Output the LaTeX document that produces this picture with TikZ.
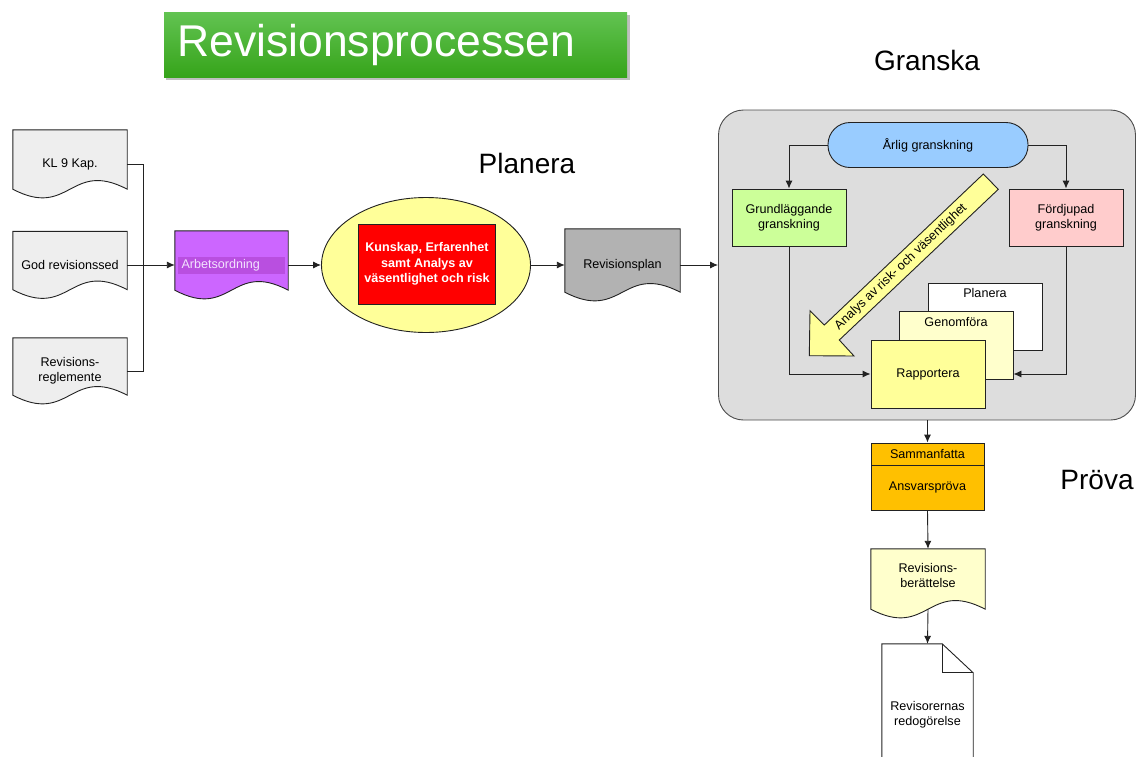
\documentclass[tikz,border=0pt]{standalone}
\usepackage{fontspec}
\setmainfont{Liberation Sans}
\usetikzlibrary{arrows.meta,shapes.geometric,calc}
\pgfdeclarelayer{bg}
\pgfsetlayers{bg,main}
\definecolor{docgray}{HTML}{EEEEEE}
\definecolor{violet}{HTML}{CC66FF}
\definecolor{violetdark}{HTML}{B94FE0}
\definecolor{violettext}{HTML}{F3E3FF}
\definecolor{ellyellow}{HTML}{FFFF99}
\definecolor{redbox}{HTML}{FF0000}
\definecolor{plangray}{HTML}{B2B2B2}
\definecolor{boxgray}{HTML}{DDDDDD}
\definecolor{blueish}{HTML}{99CCFF}
\definecolor{greenish}{HTML}{CCFF99}
\definecolor{pinkish}{HTML}{FFCCCC}
\definecolor{paleyellow}{HTML}{FFFFCC}
\definecolor{orangebox}{HTML}{FFC000}
\definecolor{titletop}{HTML}{62C352}
\definecolor{titlebot}{HTML}{36A41A}
\definecolor{stroke}{HTML}{222222}
\newcommand\docshape[2]{%
  \begin{pgfonlayer}{bg}
  \draw[shapeline,fill=#2] (#1.north west) -- (#1.north east) -- ([yshift=9pt]#1.south east)
    .. controls ([yshift=39pt]#1.south) and ([yshift=-21pt]#1.south) .. ([yshift=9pt]#1.south west) -- cycle;
  \end{pgfonlayer}}
\tikzset{
  shapeline/.style={draw=stroke,line width=0.9pt},
  conn/.style={draw=stroke,line width=0.9pt},
  arrowconn/.style={conn,-{Latex[length=8pt,width=7pt]}},
  txt/.style={font=\fontsize{12.6}{15}\selectfont,align=center,inner sep=0pt},
  docnode/.style={txt,rectangle,draw=none},
  boxnode/.style={txt,rectangle,shapeline},
  bigtxt/.style={font=\fontsize{28}{32}\selectfont,inner sep=0pt},
}
\begin{document}
\begin{tikzpicture}[x=1pt,y=-1pt]
\useasboundingbox (0,0) rectangle (1136,756);
\clip (0,0) rectangle (1136,756);

% title
\fill[black,opacity=0.25] (166,15) rectangle (630,80);
\shade[top color=titletop,bottom color=titlebot] (164,12) rectangle (627,77);
\node[anchor=west,text=white,font=\fontsize{44.5}{50}\selectfont,inner sep=0pt] (title) at (177,45) {Revisionsprocessen};

% section labels
\node[bigtxt] (lplanera) at (527,163) {Planera};
\node[bigtxt] (lgranska) at (927,60) {Granska};
\node[bigtxt] (lprova) at (1097,480) {Pröva};

% left documents
\node[docnode,minimum width=114,minimum height=68] (kl) at (70,164) {KL 9 Kap.};
\docshape{kl}{docgray}
\node[docnode,minimum width=114,minimum height=67] (god) at (70,265) {God revisionssed};
\docshape{god}{docgray}
\node[docnode,minimum width=114,minimum height=66] (regl) at (70,371) {Revisions-\\reglemente};
\docshape{regl}{docgray}

\node[docnode,minimum width=113,minimum height=68] (arb) at (231.5,265) {};
\docshape{arb}{violet}
\node[txt,fill=violetdark,text=violettext,minimum width=107,minimum height=17,text width=100,align=left] (arbtext) at (231.5,265.5) {Arbetsordning};

\draw[conn] (kl.east) -- ++(16,0) coordinate (junc) |- (regl.east);
\draw[arrowconn] (god.east) -- (arb.west);

% ellipse
\node[ellipse,shapeline,fill=ellyellow,minimum width=209,minimum height=135,inner sep=0pt] (ell) at (426,265) {};
\node[txt,shapeline,fill=redbox,text=white,font=\fontsize{12.6}{15.5}\selectfont\bfseries,minimum width=137,minimum height=80] (red) at (427,264) {Kunskap, Erfarenhet\\samt Analys av\\väsentlighet och risk};
\draw[arrowconn] (arb.east) -- (ell.west);

% Revisionsplan
\node[docnode,minimum width=115,minimum height=72] (rplan) at (622.5,265) {Revisionsplan};
\docshape{rplan}{plangray}
\draw[arrowconn] (ell.east) -- (rplan.west);

% Granska box
\node[rectangle,rounded corners=25pt,draw=black!70,line width=0.9pt,fill=boxgray,minimum width=417,minimum height=310] (granska) at (927,265) {};
\draw[arrowconn] (rplan.east) -- (granska.west |- rplan.east);

\node[boxnode,fill=blueish,rounded corners=22pt,minimum width=200,minimum height=45] (arlig) at (928,145) {Årlig granskning};
\node[boxnode,fill=greenish,minimum width=114,minimum height=57] (grund) at (789,217.5) {Grundläggande\\granskning};
\node[boxnode,fill=pinkish,minimum width=114,minimum height=57] (ford) at (1066,217.5) {Fördjupad\\granskning};
\draw[arrowconn] (arlig.west) -| (grund.north);
\draw[arrowconn] (arlig.east) -| (ford.north);

% stacked boxes
\node[boxnode,fill=white,minimum width=114,minimum height=67] (planbox) at (985,316.5) {};
\node[txt] (plantext) at ([yshift=-10pt]planbox.north) {Planera};
\node[boxnode,fill=paleyellow,minimum width=114,minimum height=68] (genom) at (956,345) {};
\node[txt] (genomtext) at ([yshift=-11pt]genom.north) {Genomföra};
\node[boxnode,fill=ellyellow,minimum width=114,minimum height=68] (rapp) at (928,374) {Rapportera};

\draw[arrowconn] (grund.south) |- (rapp.west);
\draw[arrowconn] (ford.south) |- (genom.east |- rapp.west);

% big diagonal arrow
\draw[shapeline,fill=ellyellow] (983.3,174) -- (998.3,189.3) -- (839.3,340) -- (854,356) -- (809.3,355.7) -- (810,310.7) -- (824.3,325) -- cycle;
\node[txt,rotate=43.5] (analys) at (901,267) {Analys av risk- och väsentlighet};

% Pröva
\node[boxnode,fill=orangebox,minimum width=113,minimum height=22] (samman) at (927.5,454) {Sammanfatta};
\node[boxnode,fill=orangebox,minimum width=113,minimum height=45] (ansvar) at (927.5,487.5) {Ansvarspröva};
\draw[arrowconn] (samman.north |- granska.south) -- (samman.north);

\node[docnode,minimum width=114,minimum height=69] (ber) at (928,583.5) {};
\docshape{ber}{paleyellow}
\node[txt] (bertext) at ([yshift=8.5pt]ber.center) {Revisions-\\berättelse};
\draw[arrowconn] (ansvar.south) -- (ber.north);

\node[docnode,minimum width=91,minimum height=142] (rev) at (927.5,715) {Revisorernas\\redogörelse};
\begin{pgfonlayer}{bg}
\draw[shapeline,fill=white] (rev.north west) -- ([xshift=-31pt]rev.north east) -- ([yshift=-29pt]rev.north east) -- (rev.south east) -- (rev.south west) -- cycle;
\end{pgfonlayer}
\draw[shapeline] ([xshift=-31pt]rev.north east) -- ([xshift=-31pt,yshift=-29pt]rev.north east) -- ([yshift=-29pt]rev.north east);
\draw[arrowconn] ([yshift=9pt]ber.south) -- (rev.north);
\end{tikzpicture}
\end{document}
